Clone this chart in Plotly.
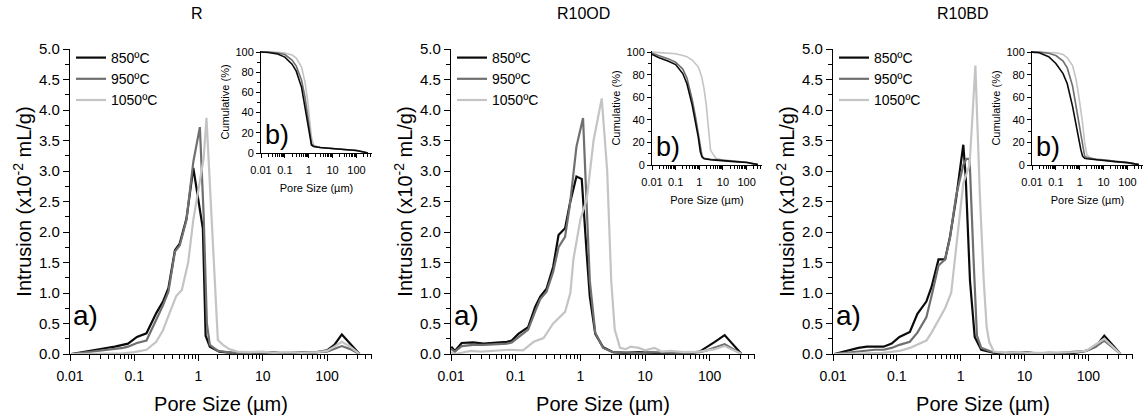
import plotly.graph_objects as go

W, H = 1145, 416

# ---------------- data ----------------
temps = ["850ºC", "950ºC", "1050ºC"]
colors = ["#0a0a0a", "#6f6f6f", "#c4c4c4"]

# Panel R (intrusion, x10^-2 mL/g)
R_850_x = [0.0105, 0.015, 0.023, 0.033, 0.05, 0.067, 0.08, 0.11, 0.155, 0.22, 0.28, 0.34, 0.40, 0.43, 0.51, 0.65, 0.83, 0.95, 1.05, 1.17, 1.29, 1.5, 2.1, 3.4, 5, 8, 12, 20, 30, 50, 70, 100, 130, 170, 230, 320]
R_850_y = [0.0, 0.03, 0.07, 0.09, 0.12, 0.15, 0.17, 0.28, 0.34, 0.67, 0.86, 1.08, 1.5, 1.70, 1.81, 2.22, 3.05, 2.65, 2.4, 2.05, 0.3, 0.12, 0.04, 0.02, 0.03, 0.02, 0.03, 0.01, 0.02, 0.02, 0.03, 0.06, 0.15, 0.32, 0.17, 0.0]
R_950_x = [0.0105, 0.015, 0.023, 0.033, 0.05, 0.067, 0.08, 0.11, 0.155, 0.22, 0.28, 0.34, 0.40, 0.43, 0.51, 0.65, 0.83, 1.05, 1.2, 1.35, 1.5, 2.0, 3.4, 5, 8, 12, 20, 30, 50, 70, 100, 130, 170, 230, 320]
R_950_y = [0.0, 0.02, 0.04, 0.06, 0.08, 0.10, 0.12, 0.18, 0.22, 0.55, 0.80, 1.02, 1.5, 1.68, 1.78, 2.2, 3.15, 3.72, 2.3, 0.5, 0.15, 0.05, 0.02, 0.03, 0.02, 0.03, 0.02, 0.02, 0.02, 0.03, 0.04, 0.08, 0.13, 0.08, 0.0]
R_1050_x = [0.0105, 0.02, 0.033, 0.05, 0.067, 0.1, 0.155, 0.22, 0.28, 0.36, 0.45, 0.55, 0.69, 0.83, 0.93, 1.05, 1.2, 1.33, 1.55, 1.75, 2.0, 2.4, 3.0, 4.0, 6, 10, 15, 25, 40, 70, 100, 130, 170, 230, 320]
R_1050_y = [0.0, 0.0, 0.01, 0.01, 0.01, 0.03, 0.07, 0.2, 0.39, 0.69, 0.95, 1.05, 1.5, 2.2, 2.5, 2.85, 3.2, 3.87, 2.5, 1.2, 0.23, 0.15, 0.08, 0.04, 0.03, 0.04, 0.02, 0.03, 0.02, 0.03, 0.05, 0.12, 0.2, 0.12, 0.0]

# Panel R10OD
OD_850_x = [0.0101, 0.0115, 0.0146, 0.022, 0.032, 0.051, 0.073, 0.087, 0.11, 0.156, 0.2, 0.24, 0.30, 0.38, 0.46, 0.58, 0.69, 0.87, 1.05, 1.25, 1.4, 1.7, 2.25, 3.2, 5, 8, 12, 20, 30, 50, 70, 90, 120, 170, 310]
OD_850_y = [0.12, 0.05, 0.18, 0.19, 0.17, 0.19, 0.2, 0.22, 0.33, 0.44, 0.77, 0.94, 1.07, 1.43, 1.95, 2.06, 2.47, 2.91, 2.87, 1.66, 0.94, 0.33, 0.11, 0.03, 0.02, 0.03, 0.02, 0.01, 0.02, 0.02, 0.04, 0.11, 0.2, 0.31, 0.0]
OD_950_x = [0.0101, 0.0115, 0.0146, 0.022, 0.032, 0.051, 0.073, 0.087, 0.11, 0.156, 0.2, 0.24, 0.30, 0.38, 0.46, 0.58, 0.69, 0.87, 1.1, 1.25, 1.4, 1.7, 2.25, 3.2, 5, 8, 12, 20, 30, 50, 70, 90, 120, 170, 310]
OD_950_y = [0.08, 0.04, 0.13, 0.15, 0.15, 0.16, 0.17, 0.19, 0.28, 0.40, 0.70, 0.90, 1.02, 1.35, 1.75, 1.92, 2.45, 3.4, 3.87, 2.3, 1.2, 0.35, 0.1, 0.03, 0.02, 0.02, 0.03, 0.02, 0.02, 0.02, 0.03, 0.06, 0.1, 0.16, 0.0]
OD_1050_x = [0.0101, 0.0115, 0.0146, 0.02, 0.03, 0.05, 0.08, 0.13, 0.19, 0.27, 0.38, 0.58, 0.7, 0.78, 0.9, 1.0, 1.26, 1.6, 2.14, 2.6, 3.0, 3.4, 4.1, 5, 6, 8, 10, 14, 18, 25, 40, 70, 120, 170, 310]
OD_1050_y = [0.03, 0.0, 0.02, 0.05, 0.04, 0.05, 0.07, 0.06, 0.2, 0.26, 0.5, 0.69, 1.0, 1.55, 1.9, 2.2, 2.55, 3.5, 4.19, 3.0, 1.2, 0.4, 0.1, 0.08, 0.12, 0.1, 0.06, 0.1, 0.04, 0.05, 0.03, 0.04, 0.08, 0.13, 0.0]

# Panel R10BD
BD_850_x = [0.0105, 0.016, 0.025, 0.034, 0.045, 0.062, 0.083, 0.11, 0.16, 0.21, 0.29, 0.35, 0.45, 0.57, 0.68, 0.85, 1.1, 1.2, 1.4, 1.66, 2.1, 3.2, 4, 6, 10, 15, 25, 40, 60, 92, 130, 178, 320]
BD_850_y = [0.0, 0.05, 0.1, 0.12, 0.12, 0.12, 0.17, 0.28, 0.36, 0.66, 0.86, 1.1, 1.55, 1.55, 1.92, 2.55, 3.43, 2.9, 1.2, 0.28, 0.07, 0.03, 0.0, 0.02, 0.03, 0.01, 0.02, 0.01, 0.02, 0.05, 0.12, 0.3, 0.0]
BD_950_x = [0.0105, 0.016, 0.025, 0.034, 0.045, 0.062, 0.083, 0.11, 0.16, 0.21, 0.29, 0.35, 0.45, 0.57, 0.68, 0.85, 1.1, 1.23, 1.38, 1.6, 1.8, 2.1, 3.2, 5, 8, 12, 20, 35, 60, 92, 130, 178, 320]
BD_950_y = [0.0, 0.02, 0.04, 0.06, 0.07, 0.07, 0.1, 0.15, 0.2, 0.35, 0.6, 0.95, 1.45, 1.55, 1.9, 2.6, 3.1, 3.2, 3.2, 1.5, 0.3, 0.1, 0.03, 0.02, 0.03, 0.02, 0.01, 0.02, 0.03, 0.05, 0.12, 0.22, 0.0]
BD_1050_x = [0.0105, 0.02, 0.034, 0.06, 0.083, 0.11, 0.16, 0.22, 0.29, 0.35, 0.45, 0.57, 0.71, 0.85, 0.97, 1.1, 1.23, 1.38, 1.55, 1.7, 2.0, 2.3, 2.55, 2.8, 3.3, 5, 8, 12, 20, 35, 60, 92, 130, 178, 320]
BD_1050_y = [0.0, 0.0, 0.01, 0.02, 0.04, 0.05, 0.1, 0.17, 0.22, 0.35, 0.55, 0.75, 1.0, 1.76, 2.38, 2.8, 2.95, 3.1, 4.0, 4.73, 2.6, 1.2, 0.45, 0.2, 0.04, 0.02, 0.03, 0.02, 0.02, 0.02, 0.03, 0.05, 0.15, 0.25, 0.0]

# Insets: cumulative (%)
cum_x = [0.01, 0.02, 0.05, 0.1, 0.2, 0.3, 0.5, 0.7, 0.9, 1.1, 1.3, 1.6, 2.0, 2.5, 3.0, 5, 10, 30, 100, 200, 300]
R_cum_850 = [100, 99.5, 98, 95, 88, 81, 65, 45, 27, 14, 8, 6.5, 6, 5.8, 5.5, 5, 4.5, 3.5, 2.5, 1, 0]
R_cum_950 = [100, 100, 99, 97.5, 92, 86, 72, 55, 37, 18, 9, 7, 6, 5.8, 5.5, 5, 4.5, 3.5, 2.5, 1, 0]
R_cum_1050 = [100, 100, 99.8, 99, 97, 94, 85, 70, 52, 32, 16, 8, 6.5, 6, 5.6, 5, 4.5, 3.5, 2.5, 1, 0]
OD_cum_850 = [98, 95, 92, 89, 81, 72, 53, 38, 25, 12, 7, 5.5, 5, 4.8, 4.6, 4.3, 4, 3, 2.2, 1, 0.5]
OD_cum_950 = [99, 97, 94, 91, 85, 77, 58, 42, 29, 15, 8, 6, 5.5, 5.2, 5, 4.6, 4.2, 3.2, 2.4, 1, 0.5]
OD_cum_1050 = [100, 99.5, 99, 98.5, 97, 96, 93, 90, 87, 82, 77, 67, 52, 30, 13, 6, 4.5, 3.5, 2.5, 1, 0.5]
BD_cum_850 = [100, 99.5, 96, 90, 81, 72, 52, 35, 24, 14, 8, 6, 5.5, 5.2, 5, 4.5, 4, 3, 2.2, 1, 0.5]
BD_cum_950 = [100, 100, 99, 97, 92, 86, 70, 52, 38, 26, 16, 8, 6.5, 6, 5.5, 5, 4.5, 3.3, 2.4, 1, 0.5]
BD_cum_1050 = [100, 100, 99.8, 99.5, 98, 95, 88, 76, 62, 50, 38, 20, 9, 7, 6, 5, 4.5, 3.5, 2.5, 1, 0.5]

panel_titles = ["R", "R10OD", "R10BD"]
main_series = [
    [(R_850_x, R_850_y), (R_950_x, R_950_y), (R_1050_x, R_1050_y)],
    [(OD_850_x, OD_850_y), (OD_950_x, OD_950_y), (OD_1050_x, OD_1050_y)],
    [(BD_850_x, BD_850_y), (BD_950_x, BD_950_y), (BD_1050_x, BD_1050_y)],
]
inset_series = [
    [R_cum_850, R_cum_950, R_cum_1050],
    [OD_cum_850, OD_cum_950, OD_cum_1050],
    [BD_cum_850, BD_cum_950, BD_cum_1050],
]

# ---------------- layout geometry (pixels) ----------------
main_x_px = [(70, 372), (451, 755), (833, 1133)]
main_y_px = (49, 354)  # top, bottom
inset_x_px = [(261, 372), (652, 762), (1032, 1143)]
inset_y_px = [(51, 153), (51, 165), (51, 165)]
title_x_px = [197, 583, 963]

def px_x(a, b):
    return [a / W, b / W]

def px_y(top, bottom):
    return [1 - bottom / H, 1 - top / H]

FONT = "Arial, Liberation Sans, sans-serif"
fig = go.Figure()
layout = dict(
    width=W, height=H, margin=dict(l=0, r=0, t=0, b=0, autoexpand=False),
    paper_bgcolor="white", plot_bgcolor="rgba(0,0,0,0)",
    font=dict(family=FONT, color="black"),
    annotations=[],
)

axis_common = dict(showgrid=False, zeroline=False, showline=True, linecolor="black",
                   linewidth=1.3, ticks="outside", tickcolor="black", tickwidth=1.2,
                   automargin=False)

for p in range(3):
    mi = p + 1          # main axis index
    ii = p + 4          # inset axis index
    legend_name = "legend" if p == 0 else f"legend{p + 1}"
    for s in range(3):
        xs, ys = main_series[p][s]
        fig.add_trace(go.Scatter(
            x=xs, y=ys, mode="lines", name=temps[s],
            line=dict(color=colors[s], width=2.2),
            xaxis=f"x{mi}" if mi > 1 else "x", yaxis=f"y{mi}" if mi > 1 else "y",
            legend=legend_name, showlegend=True,
        ))
    for s in [2, 1, 0]:
        fig.add_trace(go.Scatter(
            x=cum_x, y=inset_series[p][s], mode="lines", name=temps[s],
            line=dict(color=colors[s], width=1.6),
            xaxis=f"x{ii}", yaxis=f"y{ii}", showlegend=False,
        ))

    xk = "xaxis" if mi == 1 else f"xaxis{mi}"
    yk = "yaxis" if mi == 1 else f"yaxis{mi}"
    xr = "x" if mi == 1 else f"x{mi}"
    yr = "y" if mi == 1 else f"y{mi}"
    layout[xk] = dict(axis_common, type="log", range=[-2, 2.7], domain=px_x(*main_x_px[p]),
                      anchor=yr, tickmode="linear", tick0=0, dtick=1, ticklen=6,
                      tickfont=dict(size=14), ticklabelstandoff=3,
                      minor=dict(ticks="outside", dtick="D1", ticklen=4,
                                 tickcolor="black", tickwidth=1, showgrid=False),
                      title=dict(text="Pore Size (µm)", font=dict(size=20), standoff=14))
    layout[yk] = dict(axis_common, range=[0, 5], domain=px_y(*main_y_px),
                      anchor=xr, tickmode="linear", tick0=0, dtick=0.5, tickformat=".1f", ticklen=6,
                      tickfont=dict(size=15),
                      minor=dict(ticks="outside", dtick=0.25, ticklen=4, tickcolor="black",
                                 tickwidth=1, showgrid=False),
                      title=dict(text="Intrusion (x10<sup>-2</sup> mL/g)", font=dict(size=20), standoff=1))
    layout[f"xaxis{ii}"] = dict(axis_common, type="log", range=[-2, 2.65], domain=px_x(*inset_x_px[p]),
                                anchor=f"y{ii}", linewidth=1.1, tickwidth=1,
                                tickmode="linear", tick0=0, dtick=1, ticklen=4,
                                tickfont=dict(size=11), ticklabelstandoff=3,
                                minor=dict(ticks="outside", dtick="D1", ticklen=2.5,
                                           tickcolor="black", tickwidth=0.8, showgrid=False),
                                title=dict(text="Pore Size (µm)", font=dict(size=11), standoff=9))
    layout[f"yaxis{ii}"] = dict(axis_common, range=[0, 101], domain=px_y(*inset_y_px[p]),
                                anchor=f"x{ii}", linewidth=1.1, tickwidth=1,
                                tickmode="linear", tick0=0, dtick=20, ticklen=4,
                                tickfont=dict(size=11),
                                minor=dict(ticks="outside", dtick=10, ticklen=2.5, tickcolor="black",
                                           tickwidth=0.8, showgrid=False),
                                title=dict(text="Cumulative (%)", font=dict(size=11), standoff=3))

    layout[legend_name] = dict(x=(main_x_px[p][0] + 1) / W, y=1 - 42 / H, xanchor="left", yanchor="top",
                               bgcolor="rgba(0,0,0,0)", font=dict(size=14), itemwidth=30,
                               tracegroupgap=0)
    layout["annotations"].append(dict(text=panel_titles[p], x=title_x_px[p] / W, y=1 - 13 / H,
                                      xref="paper", yref="paper", showarrow=False,
                                      font=dict(size=16), xanchor="center", yanchor="middle"))
    layout["annotations"].append(dict(text="a)", x=(main_x_px[p][0] + 1) / W, y=1 - 315 / H,
                                      xref="paper", yref="paper", showarrow=False,
                                      font=dict(size=28), xanchor="left", yanchor="middle"))
    layout["annotations"].append(dict(text="b)", x=(inset_x_px[p][0] + 2) / W,
                                      y=1 - (inset_y_px[p][1] - 18) / H,
                                      xref="paper", yref="paper", showarrow=False,
                                      font=dict(size=27), xanchor="left", yanchor="middle"))

fig.update_layout(**layout)
fig.write_html("out.html", config={"displayModeBar": False},
               post_script="document.body.style.margin='0';document.body.style.overflow='hidden';")
